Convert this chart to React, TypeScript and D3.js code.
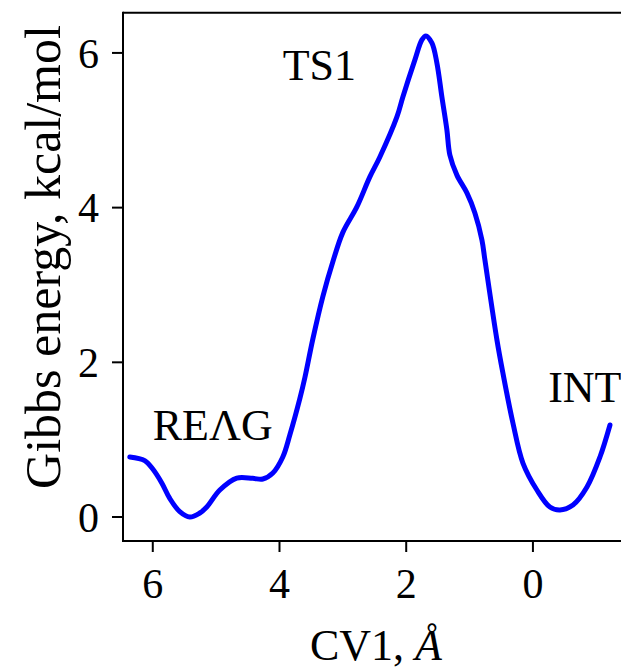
import React from "react";
import * as d3 from "d3";

const cv1: number[] = [
  6.363, 6.127, 6.0, 5.858, 5.732, 5.574, 5.416, 5.258, 5.148, 4.942, 4.674, 4.421, 4.263,
  4.105, 3.948, 3.837, 3.679, 3.6, 3.474, 3.316, 3.158, 3.0, 2.779, 2.574, 2.416, 2.147,
  2.053, 1.863, 1.753, 1.69, 1.595, 1.516, 1.437, 1.358, 1.311, 1.2, 1.042, 0.916, 0.805,
  0.758, 0.568, 0.474, 0.316, 0.158, -0.063, -0.268, -0.426, -0.632, -0.853, -1.058, -1.216,
];
const energy: number[] = [
  0.776, 0.73, 0.62, 0.44, 0.24, 0.07, 0.0, 0.052, 0.129, 0.349, 0.504, 0.5, 0.491,
  0.569, 0.776, 1.06, 1.53, 1.8, 2.3, 2.85, 3.3, 3.68, 4.009, 4.397, 4.655, 5.173,
  5.431, 5.91, 6.168, 6.22, 6.13, 5.871, 5.431, 5.005, 4.68, 4.42, 4.19, 3.931, 3.582,
  3.323, 2.289, 1.862, 1.216, 0.698, 0.349, 0.129, 0.091, 0.155, 0.388, 0.776, 1.19,
];
const xTicks: number[] = [6, 4, 2, 0];
const yTicks: number[] = [0, 2, 4, 6];
const labels: { text: string; x: number; y: number }[] = [
  { text: "TS1", x: 3.95, y: 5.65 },
  { text: "REΛG", x: 6.0, y: 0.99 },
  { text: "INT", x: -0.24, y: 1.49 },
];

const W = 621;
const H = 670;
const left = 123;
const right = 621;
const top = 12.7;
const bottom = 541;
const FONT = "'Liberation Serif', 'Times New Roman', serif";

export default function App() {
  const x = d3.scaleLinear().domain([6.47, -1.39]).range([left, right]);
  const y = d3.scaleLinear().domain([-0.31, 6.52]).range([bottom, top]);
  const pts = cv1.map((v, i) => [v, energy[i]] as [number, number]);
  const line = d3
    .line<[number, number]>()
    .x((d) => x(d[0]))
    .y((d) => y(d[1]))
    .curve(d3.curveCatmullRom.alpha(0.5));

  return (
    <svg
      width={W}
      height={H}
      style={{ position: "absolute", left: 0, top: 0, background: "#fff" }}
      fontFamily={FONT}
    >
      <rect x={0} y={0} width={W} height={H} fill="#fff" />
      <line x1={left} x2={W + 5} y1={top} y2={top} stroke="#000" strokeWidth={2} />
      <line x1={left} x2={W + 5} y1={bottom} y2={bottom} stroke="#000" strokeWidth={2} />
      <line x1={left} x2={left} y1={top - 1} y2={bottom + 1} stroke="#000" strokeWidth={2} />
      {yTicks.map((t) => (
        <g key={"y" + t}>
          <line x1={left - 11} x2={left} y1={y(t)} y2={y(t)} stroke="#000" strokeWidth={2} />
          <text x={left - 24} y={y(t)} dy="0.35em" textAnchor="end" fontSize={42} fill="#000">
            {t}
          </text>
        </g>
      ))}
      {xTicks.map((t) => (
        <g key={"x" + t}>
          <line x1={x(t)} x2={x(t)} y1={bottom} y2={bottom + 11} stroke="#000" strokeWidth={2} />
          <text x={x(t)} y={598} textAnchor="middle" fontSize={42} fill="#000">
            {t}
          </text>
        </g>
      ))}
      <text x={376} y={660} textAnchor="middle" fontSize={44} fill="#000">
        CV1, <tspan fontStyle="italic">Å</tspan>
      </text>
      <text
        transform={`translate(60, 257) rotate(-90)`}
        textAnchor="middle"
        fontSize={50}
        fill="#000"
      >
        Gibbs energy, kcal/mol
      </text>
      <path
        d={line(pts) || ""}
        fill="none"
        stroke="#0000ff"
        strokeWidth={5}
        strokeLinejoin="round"
        strokeLinecap="round"
      />
      {labels.map((l) => (
        <text key={l.text} x={x(l.x)} y={y(l.y)} fontSize={44} fill="#000">
          {l.text}
        </text>
      ))}
    </svg>
  );
}
